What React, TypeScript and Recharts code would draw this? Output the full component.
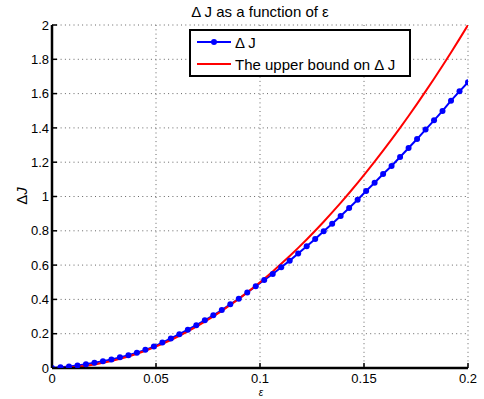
import React from 'react';
import { LineChart, Line, XAxis, YAxis, CartesianGrid } from 'recharts';

// 50 samples of epsilon on [0, 0.2]
const EPS_MAX = 0.2;
const EPS_COUNT = 50;

const DELTA_J = [
  0, 0.004, 0.009, 0.015, 0.022, 0.03, 0.04, 0.05, 0.062, 0.075,
  0.089, 0.106, 0.125, 0.148, 0.172, 0.197, 0.223, 0.25, 0.278, 0.307,
  0.338, 0.371, 0.404, 0.44, 0.477, 0.513, 0.548, 0.587, 0.626, 0.667,
  0.71, 0.752, 0.797, 0.841, 0.886, 0.933, 0.981, 1.032, 1.08, 1.131,
  1.178, 1.23, 1.283, 1.335, 1.39, 1.444, 1.499, 1.559, 1.613, 1.666,
];

const UPPER_BOUND = [
  0, 0.0008, 0.0033, 0.0075, 0.0133, 0.0208, 0.03, 0.0408, 0.0533, 0.0675,
  0.0833, 0.1008, 0.12, 0.1408, 0.1633, 0.1874, 0.2132, 0.2407, 0.2699, 0.3007,
  0.3332, 0.3673, 0.4032, 0.4407, 0.4798, 0.5206, 0.5631, 0.6072, 0.6531, 0.7005,
  0.7497, 0.8005, 0.853, 0.9071, 0.9629, 1.0204, 1.0796, 1.1404, 1.2028, 1.267,
  1.3328, 1.4002, 1.4694, 1.5402, 1.6127, 1.6868, 1.7626, 1.8401, 1.9192, 2.0,
];

const X_TICKS = [0, 0.05, 0.1, 0.15, 0.2];
const Y_TICKS = [0, 0.2, 0.4, 0.6, 0.8, 1, 1.2, 1.4, 1.6, 1.8, 2];

const data = DELTA_J.map((dj, i) => ({
  eps: (EPS_MAX * i) / (EPS_COUNT - 1),
  dj,
  ub: UPPER_BOUND[i],
}));

const FONT = '"Liberation Sans", Arial, Helvetica, sans-serif';
const TICK_LEN = 5;
const axisLine = { stroke: '#000', strokeWidth: 2.5 };

const BottomTick = (props: any) => {
  const { x, y, payload } = props;
  return (
    <g>
      <line x1={x} y1={y} x2={x} y2={y - TICK_LEN} stroke="#000" strokeWidth={1.5} />
      <text x={x} y={y + 15} textAnchor="middle" fontSize={13} fill="#000" fontFamily={FONT}>
        {String(payload.value)}
      </text>
    </g>
  );
};

const TopTick = (props: any) => {
  const { x, y } = props;
  return <line x1={x} y1={y} x2={x} y2={y + TICK_LEN} stroke="#000" strokeWidth={1.5} />;
};

const LeftTick = (props: any) => {
  const { x, y, payload } = props;
  return (
    <g>
      <line x1={x} y1={y} x2={x + TICK_LEN} y2={y} stroke="#000" strokeWidth={1.5} />
      <text x={x - 3} y={y} dy="0.36em" textAnchor="end" fontSize={13} fill="#000" fontFamily={FONT}>
        {String(payload.value)}
      </text>
    </g>
  );
};

const RightTick = (props: any) => {
  const { x, y } = props;
  return <line x1={x} y1={y} x2={x - TICK_LEN} y2={y} stroke="#000" strokeWidth={1.5} />;
};

export default function App() {
  return (
    <div style={{ position: 'absolute', left: 0, top: 0, width: 484, height: 399, background: '#fff' }}>
      <LineChart
        width={484}
        height={399}
        data={data}
        margin={{ top: 25, right: 16, bottom: 0, left: 0 }}
      >
        <CartesianGrid stroke="#666" strokeDasharray="1 3.3" strokeWidth={1} />
        <XAxis
          dataKey="eps"
          type="number"
          domain={[0, EPS_MAX]}
          ticks={X_TICKS}
          allowDataOverflow
          height={31}
          tickSize={0}
          tickMargin={0}
          tickLine={false}
          axisLine={axisLine}
          tick={<BottomTick />}
          interval={0}
        />
        <XAxis
          xAxisId="top"
          orientation="top"
          type="number"
          domain={[0, EPS_MAX]}
          ticks={X_TICKS}
          allowDataOverflow
          height={0}
          tickSize={0}
          tickMargin={0}
          tickLine={false}
          axisLine={axisLine}
          tick={<TopTick />}
          interval={0}
        />
        <YAxis
          type="number"
          domain={[0, 2]}
          ticks={Y_TICKS}
          allowDataOverflow
          width={52}
          tickSize={0}
          tickMargin={0}
          tickLine={false}
          axisLine={axisLine}
          tick={<LeftTick />}
          interval={0}
        />
        <YAxis
          yAxisId="right"
          orientation="right"
          type="number"
          domain={[0, 2]}
          ticks={Y_TICKS}
          allowDataOverflow
          width={0}
          tickSize={0}
          tickMargin={0}
          tickLine={false}
          axisLine={axisLine}
          tick={<RightTick />}
          interval={0}
        />
        <Line
          dataKey="dj"
          type="linear"
          stroke="#0000ff"
          strokeWidth={2}
          dot={{ r: 3, fill: '#0000ff', stroke: 'none' }}
          activeDot={false}
          isAnimationActive={false}
        />
        <Line
          dataKey="ub"
          type="linear"
          stroke="#ff0000"
          strokeWidth={2}
          dot={false}
          activeDot={false}
          isAnimationActive={false}
        />
        <text x={260} y={17} textAnchor="middle" fontSize={15} fill="#000" fontFamily={FONT}>
          Δ J as a function of ε
        </text>
        <text
          x={22}
          y={196}
          transform="rotate(-90 22 196)"
          textAnchor="middle"
          dy="0.36em"
          fontSize={15}
          fill="#000"
          fontFamily={FONT}
        >
          Δ<tspan fontStyle="italic">J</tspan>
        </text>
        <text x={261} y={396} textAnchor="middle" fontSize={10} fontStyle="italic" fill="#000" fontFamily={FONT}>
          ε
        </text>
      </LineChart>
      <svg
        width={222}
        height={48}
        style={{ position: 'absolute', left: 189, top: 29 }}
      >
        <rect x={1} y={1} width={220} height={46} fill="#fff" stroke="#000" strokeWidth={2} />
        <line x1={8} y1={13} x2={42} y2={13} stroke="#0000ff" strokeWidth={2} />
        <circle cx={25} cy={13} r={3} fill="#0000ff" />
        <text x={46} y={18.5} fontSize={15} fill="#000" fontFamily={FONT}>
          Δ J
        </text>
        <line x1={8} y1={35} x2={42} y2={35} stroke="#ff0000" strokeWidth={2} />
        <text x={46} y={40.5} fontSize={15} fill="#000" fontFamily={FONT}>
          The upper bound on Δ J
        </text>
      </svg>
    </div>
  );
}
